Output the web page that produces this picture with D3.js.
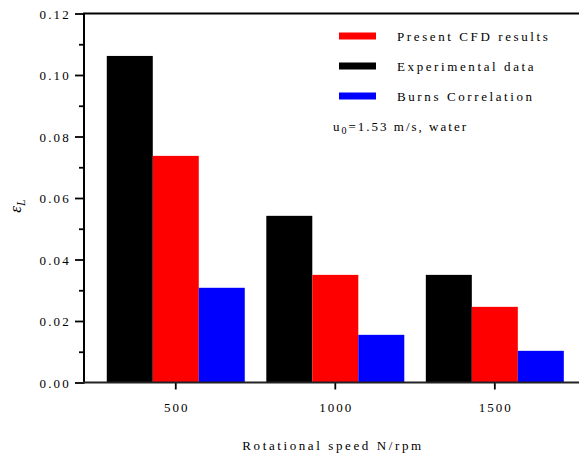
<!DOCTYPE html>
<html>
<head>
<meta charset="utf-8">
<script src="https://cdn.jsdelivr.net/npm/d3@7"></script>
<style>
  html, body { margin: 0; padding: 0; background: #fff; }
  svg text { font-family: "Liberation Serif", "Times New Roman", serif; fill: #000; }
</style>
</head>
<body>
<svg id="chart" width="579" height="457"></svg>
<script>
// Liquid holdup at three rotational speeds
const speeds = ["500", "1000", "1500"];
const seriesNames = ["Experimental data", "Present CFD results", "Burns Correlation"];
const seriesColors = ["#000000", "#ff0000", "#0000ff"];
const experimental = [0.1062, 0.0542, 0.0350];
const cfd = [0.0737, 0.0350, 0.0246];
const burns = [0.0308, 0.0155, 0.0103];
const yTicks = [0, 0.02, 0.04, 0.06, 0.08, 0.10, 0.12];
const yMinorTicks = [0.01, 0.03, 0.05, 0.07, 0.09, 0.11];
const legendOrder = [1, 0, 2];

const values = [experimental, cfd, burns];

const svg = d3.select("#chart");
const plotLeft = 84, plotRight = 579, plotTop = 13.5, plotBottom = 382.5;

const y = d3.scaleLinear().domain([0, 0.12]).range([plotBottom, plotTop]);
const x0 = d3.scaleBand().domain(speeds).range([plotLeft, plotRight])
  .paddingInner(0.135).paddingOuter(0.119).align(0.6);
const x1 = d3.scaleBand().domain(d3.range(seriesNames.length)).range([0, x0.bandwidth()]);

// bars
const groups = svg.append("g").selectAll("g").data(speeds).join("g")
  .attr("transform", d => `translate(${x0(d)},0)`);
groups.selectAll("rect")
  .data((d, i) => values.map((s, k) => ({ k, v: s[i] })))
  .join("rect")
  .attr("x", d => x1(d.k))
  .attr("width", x1.bandwidth())
  .attr("y", d => y(d.v))
  .attr("height", d => y(0) - y(d.v))
  .attr("fill", d => seriesColors[d.k]);

// y axis
const yAxis = svg.append("g").attr("transform", `translate(${plotLeft},0)`)
  .call(d3.axisLeft(y).tickValues(yTicks).tickFormat(d3.format(".2f")).tickSize(9).tickSizeOuter(0));
yAxis.select(".domain").remove();
yAxis.selectAll(".tick line").attr("stroke", "#000").attr("stroke-width", 1.8);
yAxis.selectAll(".tick text")
  .attr("x", -13).attr("dy", "0.35em")
  .style("font-size", "13px").style("letter-spacing", "2.2px");
svg.append("g").attr("transform", `translate(${plotLeft},0)`)
  .call(d3.axisLeft(y).tickValues(yMinorTicks).tickFormat("").tickSize(5).tickSizeOuter(0))
  .call(g => g.select(".domain").remove())
  .selectAll(".tick line").attr("stroke", "#000").attr("stroke-width", 1.8);

// x axis
const xAxis = svg.append("g").attr("transform", `translate(0,${plotBottom})`)
  .call(d3.axisBottom(x0).tickSize(7).tickSizeOuter(0).tickPadding(13));
xAxis.select(".domain").remove();
xAxis.selectAll(".tick line").attr("stroke", "#000").attr("stroke-width", 1.8);
xAxis.selectAll(".tick text").style("font-size", "13px").style("letter-spacing", "2px")
  .attr("dx", "1px");

// frame lines: left, bottom, top
svg.append("line").attr("x1", plotLeft).attr("x2", plotLeft).attr("y1", plotTop).attr("y2", plotBottom + 1)
  .attr("stroke", "#000").attr("stroke-width", 2);
svg.append("line").attr("x1", plotLeft - 1).attr("x2", plotRight).attr("y1", plotBottom).attr("y2", plotBottom)
  .attr("stroke", "#222").attr("stroke-width", 2);
svg.append("line").attr("x1", plotLeft - 1).attr("x2", plotRight).attr("y1", plotTop).attr("y2", plotTop)
  .attr("stroke", "#000").attr("stroke-width", 2);

// axis titles
svg.append("text").attr("x", 333).attr("y", 450).attr("text-anchor", "middle")
  .style("font-size", "13px").style("letter-spacing", "2.6px")
  .text("Rotational speed N/rpm");
const yt = svg.append("text").attr("transform", "translate(21,206) rotate(-90)")
  .attr("text-anchor", "middle").style("font-size", "17px").style("font-style", "italic");
yt.append("tspan").text("ε");
yt.append("tspan").attr("dy", "0.3em").style("font-size", "12px").text("L");

// legend
const legend = svg.append("g");
legendOrder.forEach((k, i) => {
  const ly = 36 + i * 30;
  legend.append("rect").attr("x", 339).attr("y", ly - 3.5).attr("width", 37).attr("height", 7)
    .attr("fill", seriesColors[k]);
  legend.append("text").attr("x", 397).attr("y", ly + 5)
    .style("font-size", "13px").style("letter-spacing", "2.6px").text(seriesNames[k]);
});
const note = legend.append("text").attr("x", 333).attr("y", 131)
  .style("font-size", "13px").style("letter-spacing", "2px");
note.append("tspan").text("u");
note.append("tspan").attr("dy", "3").style("font-size", "10px").text("0");
note.append("tspan").attr("dy", "-3").text("=1.53 m/s, water");
</script>
</body>
</html>
